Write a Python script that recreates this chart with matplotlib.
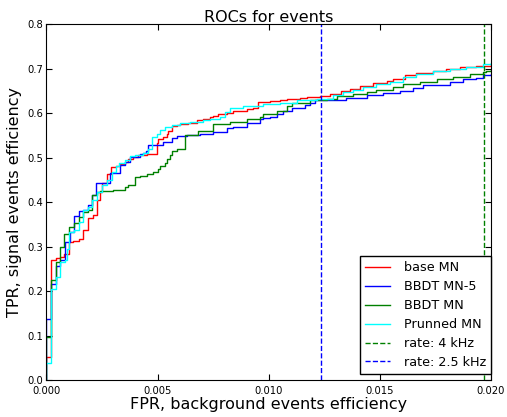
import numpy as np
import matplotlib
matplotlib.use('Agg')
import matplotlib.pyplot as plt

# ROC points (fpr where the step happens, tpr after the step)
fpr_base = [0.0, 0.0, 0.00022, 0.00042, 0.00060, 0.00078, 0.00101, 0.00119, 0.00146, 0.00164,
            0.00187, 0.00209, 0.00227, 0.00241, 0.00249, 0.00271, 0.00290, 0.00313, 0.00331,
            0.00353, 0.00367, 0.00390, 0.00413, 0.00451, 0.00488, 0.00496, 0.00503, 0.00522,
            0.00540, 0.00547, 0.00563, 0.00585, 0.00600, 0.00638, 0.00675, 0.00705, 0.00735,
            0.00750, 0.00773, 0.00811, 0.00840, 0.00870, 0.00900, 0.00930, 0.00953, 0.01005,
            0.01050, 0.01080, 0.01140, 0.01170, 0.01230, 0.01275, 0.01327, 0.01365, 0.01410,
            0.01469, 0.01530, 0.01558, 0.01612, 0.01664, 0.01739, 0.01799, 0.01859, 0.01934,
            0.02000]
tpr_base = [0.0, 0.052, 0.270, 0.274, 0.276, 0.283, 0.310, 0.312, 0.317, 0.337,
            0.364, 0.371, 0.405, 0.422, 0.443, 0.463, 0.480, 0.482, 0.486,
            0.491, 0.498, 0.502, 0.506, 0.508, 0.509, 0.532, 0.542, 0.547,
            0.554, 0.561, 0.571, 0.573, 0.576, 0.579, 0.584, 0.588, 0.591,
            0.593, 0.598, 0.600, 0.605, 0.606, 0.610, 0.612, 0.626, 0.628,
            0.629, 0.631, 0.634, 0.637, 0.638, 0.643, 0.649, 0.655, 0.661,
            0.667, 0.672, 0.676, 0.685, 0.690, 0.695, 0.700, 0.704, 0.707,
            0.710]

fpr_bbdt5 = [0.0, 0.0, 0.00022, 0.00045, 0.00063, 0.00083, 0.00106, 0.00124, 0.00148, 0.00166,
             0.00189, 0.00207, 0.00225, 0.00286, 0.00331, 0.00353, 0.00375, 0.00420, 0.00435,
             0.00447, 0.00455, 0.00525, 0.00563, 0.00585, 0.00631, 0.00690, 0.00750, 0.00811,
             0.00840, 0.00900, 0.00960, 0.00975, 0.01005, 0.01035, 0.01065, 0.01103, 0.01162,
             0.01185, 0.01207, 0.01349, 0.01440, 0.01514, 0.01590, 0.01649, 0.01694, 0.01814,
             0.01874, 0.01934, 0.01964, 0.02000]
tpr_bbdt5 = [0.0, 0.137, 0.217, 0.257, 0.271, 0.311, 0.333, 0.368, 0.380, 0.383,
             0.394, 0.416, 0.444, 0.466, 0.484, 0.491, 0.502, 0.509, 0.511,
             0.516, 0.528, 0.536, 0.545, 0.548, 0.550, 0.554, 0.558, 0.567,
             0.570, 0.579, 0.586, 0.590, 0.592, 0.599, 0.606, 0.612, 0.618,
             0.623, 0.629, 0.635, 0.640, 0.645, 0.651, 0.656, 0.663, 0.671,
             0.676, 0.680, 0.685, 0.688]

fpr_bbdt = [0.0, 0.0, 0.00022, 0.00041, 0.00060, 0.00081, 0.00102, 0.00124, 0.00148, 0.00166,
            0.00189, 0.00207, 0.00228, 0.00240, 0.00301, 0.00353, 0.00367, 0.00398, 0.00420,
            0.00450, 0.00479, 0.00501, 0.00510, 0.00532, 0.00540, 0.00555, 0.00563, 0.00585,
            0.00623, 0.00682, 0.00750, 0.00825, 0.00900, 0.00960, 0.00975, 0.01035, 0.01080,
            0.01103, 0.01185, 0.01260, 0.01305, 0.01380, 0.01440, 0.01484, 0.01560, 0.01605,
            0.01679, 0.01755, 0.01829, 0.01905, 0.01964, 0.01979, 0.02000]
tpr_bbdt = [0.0, 0.097, 0.225, 0.266, 0.300, 0.328, 0.345, 0.354, 0.367, 0.378,
            0.383, 0.416, 0.423, 0.424, 0.428, 0.434, 0.439, 0.456, 0.459,
            0.464, 0.468, 0.475, 0.481, 0.487, 0.496, 0.506, 0.516, 0.520,
            0.550, 0.561, 0.575, 0.581, 0.588, 0.592, 0.599, 0.606, 0.616,
            0.622, 0.629, 0.633, 0.638, 0.643, 0.648, 0.653, 0.659, 0.665,
            0.671, 0.676, 0.682, 0.688, 0.693, 0.696, 0.697]

fpr_pruned = [0.0, 0.0, 0.00022, 0.00042, 0.00063, 0.00083, 0.00091, 0.00102, 0.00124, 0.00148,
              0.00166, 0.00189, 0.00207, 0.00228, 0.00248, 0.00271, 0.00293, 0.00313, 0.00328,
              0.00353, 0.00375, 0.00398, 0.00435, 0.00457, 0.00473, 0.00496, 0.00510, 0.00532,
              0.00563, 0.00600, 0.00646, 0.00705, 0.00735, 0.00780, 0.00803, 0.00825, 0.00884,
              0.00975, 0.01050, 0.01125, 0.01215, 0.01290, 0.01334, 0.01380, 0.01425, 0.01484,
              0.01545, 0.01605, 0.01664, 0.01739, 0.01814, 0.01889, 0.01964, 0.02000]
tpr_pruned = [0.0, 0.038, 0.204, 0.232, 0.266, 0.270, 0.295, 0.333, 0.337, 0.356,
              0.383, 0.388, 0.405, 0.423, 0.439, 0.450, 0.468, 0.481, 0.487,
              0.495, 0.503, 0.506, 0.511, 0.520, 0.547, 0.554, 0.563, 0.570,
              0.573, 0.577, 0.581, 0.584, 0.588, 0.592, 0.603, 0.611, 0.616,
              0.621, 0.623, 0.629, 0.633, 0.640, 0.648, 0.653, 0.659, 0.666,
              0.671, 0.682, 0.689, 0.695, 0.700, 0.704, 0.710, 0.712]

rate_4khz = 0.01969
rate_2_5khz = 0.01233

fig = plt.figure(figsize=(5.07, 4.17), dpi=100)
ax = fig.add_axes([0.0917, 0.0887, 0.8767, 0.8530])

ax.plot(fpr_base, tpr_base, color='r', lw=1, drawstyle='steps-post', label='base MN')
ax.plot(fpr_bbdt5, tpr_bbdt5, color='b', lw=1, drawstyle='steps-post', label='BBDT MN-5')
ax.plot(fpr_bbdt, tpr_bbdt, color='g', lw=1, drawstyle='steps-post', label='BBDT MN')
ax.plot(fpr_pruned, tpr_pruned, color='cyan', lw=1, drawstyle='steps-post', label='Prunned MN')
ax.axvline(rate_4khz, color='g', linestyle='dashed', lw=1, label='rate: 4 kHz')
ax.axvline(rate_2_5khz, color='b', linestyle='dashed', lw=1, label='rate: 2.5 kHz')

ax.set_xlim(0, 0.02)
ax.set_ylim(0, 0.8)
ax.set_xticks(np.arange(0, 0.0201, 0.005))
ax.set_yticks(np.arange(0, 0.81, 0.1))
ax.xaxis.set_major_formatter(matplotlib.ticker.FormatStrFormatter('%.3f'))
ax.yaxis.set_major_formatter(matplotlib.ticker.FormatStrFormatter('%.1f'))
ax.tick_params(direction='in', top=True, right=True, length=4, labelsize=7.2)
ax.tick_params(axis='x', pad=4)
ax.tick_params(axis='y', pad=2.5)

ax.set_title('ROCs for events', fontsize=11.5, pad=2)
ax.set_xlabel('FPR, background events efficiency', fontsize=11.5, labelpad=1)
ax.set_ylabel('TPR, signal events efficiency', fontsize=11.5, labelpad=4)

ax.legend(loc='lower right', bbox_to_anchor=(1.0, 0.017), borderaxespad=0,
          fontsize=9.2, fancybox=False, framealpha=1, edgecolor='black',
          borderpad=0.4, labelspacing=0.46, handlelength=1.9, handletextpad=1.1)

fig.savefig('out.png', dpi=100)
